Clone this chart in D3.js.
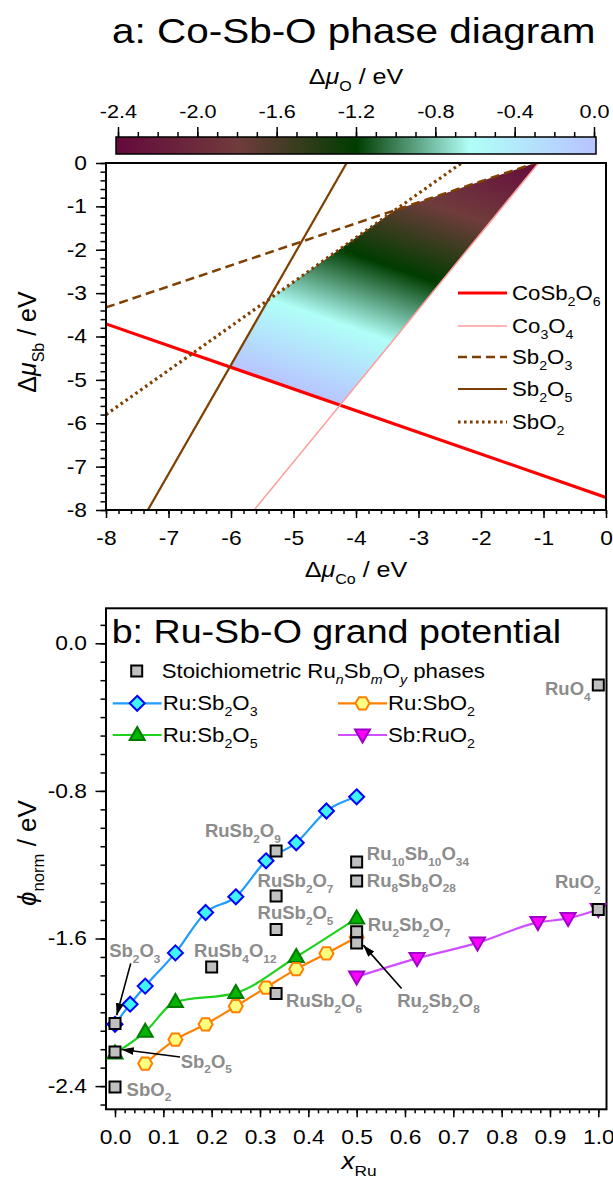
<!DOCTYPE html>
<html><head><meta charset="utf-8">
<script src="https://cdn.jsdelivr.net/npm/d3@7"></script>
<style>
html,body{margin:0;padding:0;background:#fff;}
svg{display:block;}
text{font-family:"Liberation Sans", Arial, sans-serif;}
</style></head><body>
<svg id="c" width="613" height="1179"></svg>
<script>
// ================= DATA: panel a (Co-Sb-O phase diagram) =================
const muCoTicks = [-8,-7,-6,-5,-4,-3,-2,-1,0];
const muSbTicks = [-8,-7,-6,-5,-4,-3,-2,-1,0];
const muOTicks  = [-2.4,-2.0,-1.6,-1.2,-0.8,-0.4,0.0];
const phaseNames = ["CoSb_{2}O_{6}","Co_{3}O_{4}","Sb_{2}O_{3}","Sb_{2}O_{5}","SbO_{2}"];
const phaseLineStart = [[-8,-3.71],[-5.63,-8],[-8,-3.33],[-7.33,-8],[-8,-5.80]];
const phaseLineEnd   = [[0,-7.71],[-1.08,0],[-1.13,0],[-4.15,0],[-2.31,0]];
const phaseRegionSide = [1,1,-1,-1,-1];           // stable region lies above (+1) / below (-1) each line
const hostFormula = {Co:1, Sb:2, O:6};             // CoSb2O6
const hostFormation = -15.42;                      // eV
const cmapValues = [-2.4,-1.79,-1.2,-0.625,0.0];
const cmapColors = ["#650a3c","#703c3c","#003c00","#b0fff8","#b8c4ff"];

// ================= DATA: panel b (Ru-Sb-O grand potential) =================
const xRuTicks = [0,0.1,0.2,0.3,0.4,0.5,0.6,0.7,0.8,0.9,1.0];
const phiTicks = [0.0,-0.8,-1.6,-2.4];
const ruSb2O3X = [0,0.03125,0.0625,0.125,0.1875,0.25,0.3125,0.375,0.4375,0.5];
const ruSb2O3Y = [-2.065,-1.956,-1.858,-1.678,-1.459,-1.374,-1.179,-1.081,-0.909,-0.832];
const ruSb2O5X = [0,0.0625,0.125,0.25,0.375,0.5];
const ruSb2O5Y = [-2.223,-2.106,-1.944,-1.895,-1.700,-1.491];
const ruSbO2X  = [0.0625,0.125,0.1875,0.25,0.3125,0.375,0.4375,0.5];
const ruSbO2Y  = [-2.278,-2.148,-2.065,-1.967,-1.866,-1.766,-1.681,-1.593];
const sbRuO2X  = [0.5,0.625,0.75,0.875,0.9375,1.0];
const sbRuO2Y  = [-1.808,-1.708,-1.624,-1.513,-1.491,-1.443];
const seriesNames = ["Ru:Sb_{2}O_{3}","Ru:Sb_{2}O_{5}","Ru:SbO_{2}","Sb:RuO_{2}"];
const stoichNames = ["SbO_{2}","Sb_{2}O_{5}","Sb_{2}O_{3}","RuSb_{4}O_{12}","RuSb_{2}O_{6}","RuSb_{2}O_{5}",
  "RuSb_{2}O_{7}","RuSb_{2}O_{9}","Ru_{10}Sb_{10}O_{34}","Ru_{8}Sb_{8}O_{28}","Ru_{2}Sb_{2}O_{7}",
  "Ru_{2}Sb_{2}O_{8}","RuO_{2}","RuO_{4}"];
const stoichX = [0,0,0,0.2,1/3,1/3,1/3,1/3,0.5,0.5,0.5,0.5,1,1];
const stoichY = [-2.405,-2.215,-2.061,-1.754,-1.898,-1.551,-1.369,-1.126,-1.186,-1.289,-1.564,-1.624,-1.443,-0.226];
// label anchor (data units, text baseline start)
const stoichLabelX = [0.024,0.136,-0.012,0.1635,0.354,0.295,0.295,0.186,0.521,0.521,0.523,0.584,0.9104,0.8897];
const stoichLabelY = [-2.453,-2.301,-1.701,-1.701,-1.972,-1.495,-1.321,-1.050,-1.175,-1.320,-1.560,-1.972,-1.327,-0.280];
// arrows: [fromX, fromY, toX, toY]
const arrowSpecs = [[0.0325,-1.735,0.0035,-2.016],[0.1345,-2.242,0.0139,-2.202],[0.593,-1.871,0.5138,-1.636]];

// ================= helpers =================
const SX = 1.14;
const svg = d3.select("#c");
function rich(parent, x, y, str, o) {
  o = Object.assign({size:20, anchor:"start", weight:"normal", fill:"#000", rot:0, sx:SX, sy:1, subScale:0.64, subShift:0.3}, o||{});
  const t = parent.append("text")
    .attr("transform", `translate(${x},${y}) rotate(${o.rot}) scale(${o.sx},${o.sy})`)
    .attr("text-anchor", o.anchor).attr("font-size", o.size).attr("font-weight", o.weight).attr("fill", o.fill);
  const parts = str.split(/(_i?\{[^}]*\}|\*\{[^}]*\})/).filter(s => s !== "");
  let low = false; const shift = o.size*o.subShift;
  parts.forEach(p => {
    let ts;
    if (p[0] === "_") {
      const ital = p[1] === "i";
      ts = t.append("tspan").attr("font-size", o.size*o.subScale).text(p.slice(ital?3:2, -1));
      if (ital) ts.attr("font-style","italic");
      if (!low) { ts.attr("dy", shift); low = true; }
    } else {
      const ital = p.startsWith("*{");
      ts = t.append("tspan").text(ital ? p.slice(2,-1) : p);
      if (ital) ts.attr("font-style","italic");
      if (low) { ts.attr("dy", -shift); low = false; }
    }
  });
  return t;
}
function styleAxis(g, fs, lw) {
  g.select(".domain").remove();
  g.selectAll("line").attr("stroke","#000").attr("stroke-width", lw||1.5);
  g.selectAll("text").attr("font-size", fs).attr("fill","#000").attr("font-family",'"Liberation Sans", Arial, sans-serif')
    .each(function(){ const s=d3.select(this); s.attr("x", (+s.attr("x")||0)/SX); })
    .attr("transform", `scale(${SX},1)`);
}
const defs = svg.append("defs");

// ================= titles =================
rich(svg, 112, 43, "a: Co-Sb-O phase diagram", {size:35.5});

// ================= colorbar =================
const cb = d3.scaleLinear().domain([-2.4, 0]).range([118, 594]);
const cbGrad = defs.append("linearGradient").attr("id","cbg").attr("gradientUnits","userSpaceOnUse")
  .attr("x1", cb(-2.4)).attr("x2", cb(0)).attr("y1",0).attr("y2",0);
cmapValues.forEach((v,i)=> cbGrad.append("stop").attr("offset", (v+2.4)/2.4).attr("stop-color", cmapColors[i]));
svg.append("rect").attr("x",116).attr("y",137).attr("width",480).attr("height",17)
  .attr("fill","url(#cbg)").attr("stroke","#000").attr("stroke-width",1.5);
const cbMinor = d3.range(-24, 1).map(i => i/10);
svg.append("g").attr("transform","translate(0,137)")
  .call(d3.axisTop(cb).tickValues(cbMinor).tickSize(5).tickFormat(""))
  .call(g => styleAxis(g, 19));
svg.append("g").attr("transform","translate(0,137)")
  .call(d3.axisTop(cb).tickValues(muOTicks).tickSize(10).tickPadding(9).tickFormat(d => d.toFixed(1)))
  .call(g => styleAxis(g, 19));
rich(svg, 356, 84, "Δ*{μ}_{O} / eV", {size:22, anchor:"middle"});

// ================= panel a =================
const xa = d3.scaleLinear().domain([-8,0]).range([106,606]);
const ya = d3.scaleLinear().domain([-8,0]).range([510,163]);
defs.append("clipPath").attr("id","clipA").append("rect")
  .attr("x",xa(-8)).attr("y",ya(0)).attr("width",xa(0)-xa(-8)).attr("height",ya(-8)-ya(0));

// stable region (half-plane clipping of the plot rectangle)
let poly = [[-8,-8],[0,-8],[0,0],[-8,0]];
phaseLineStart.forEach((p1, i) => {
  const p2 = phaseLineEnd[i], s = phaseRegionSide[i];
  const f = P => s*(P[1] - (p1[1] + (P[0]-p1[0])*(p2[1]-p1[1])/(p2[0]-p1[0])));
  const out = [];
  poly.forEach((A, k) => {
    const B = poly[(k+1) % poly.length], fa = f(A), fb = f(B);
    const cross = () => { const t = fa/(fa-fb); return [A[0]+t*(B[0]-A[0]), A[1]+t*(B[1]-A[1])]; };
    if (fa >= 0 && fb >= 0) out.push(B);
    else if (fa >= 0 && fb < 0) out.push(cross());
    else if (fa < 0 && fb >= 0) { out.push(cross()); out.push(B); }
  });
  poly = out;
});
// oxygen chemical potential (linear in the plane) -> gradient in pixel space
const muO = (px, py) => (hostFormation - hostFormula.Co*xa.invert(px) - hostFormula.Sb*ya.invert(py))/hostFormula.O;
const c0 = muO(0,0), ga = muO(1,0)-c0, gb = muO(0,1)-c0, n2 = ga*ga+gb*gb;
const s1 = (0-c0)/n2, s2 = (-2.4-c0)/n2;
const regGrad = defs.append("linearGradient").attr("id","regg").attr("gradientUnits","userSpaceOnUse")
  .attr("x1", s1*ga).attr("y1", s1*gb).attr("x2", s2*ga).attr("y2", s2*gb);
cmapValues.slice().reverse().forEach(v => {
  const idx = cmapValues.indexOf(v);
  regGrad.append("stop").attr("offset", v/-2.4).attr("stop-color", cmapColors[idx]);
});
const gA = svg.append("g").attr("clip-path","url(#clipA)");
gA.append("path").attr("d", d3.line().x(d=>xa(d[0])).y(d=>ya(d[1]))(poly) + "Z").attr("fill","url(#regg)");

const lineColors = ["#ff0000","#ff9c9c","#7f3f00","#7f3f00","#7f3f00"];
const lineWidths = [3.2, 1.5, 2.5, 2.2, 3.2];
const lineDash = [null, null, "9,5", null, "2.6,3.4"];
phaseLineStart.forEach((p1, i) => {
  const p2 = phaseLineEnd[i];
  gA.append("line").attr("x1", xa(p1[0])).attr("y1", ya(p1[1])).attr("x2", xa(p2[0])).attr("y2", ya(p2[1]))
    .attr("stroke", lineColors[i]).attr("stroke-width", lineWidths[i]).attr("stroke-dasharray", lineDash[i]);
});
// axes a
svg.append("g").attr("transform",`translate(${xa(-8)},0)`)
  .call(d3.axisLeft(ya).tickValues(d3.range(-40,1).map(i=>i/5)).tickSize(5.5).tickFormat(""))
  .call(g => styleAxis(g, 20));
svg.append("g").attr("transform",`translate(${xa(-8)},0)`)
  .call(d3.axisLeft(ya).tickValues(muSbTicks).tickSize(10).tickPadding(9).tickFormat(d => String(d)))
  .call(g => styleAxis(g, 20));
svg.append("g").attr("transform",`translate(0,${ya(-8)})`)
  .call(d3.axisBottom(xa).tickValues(d3.range(-40,1).map(i=>i/5)).tickSize(4).tickFormat(""))
  .call(g => styleAxis(g, 20));
svg.append("g").attr("transform",`translate(0,${ya(-8)})`)
  .call(d3.axisBottom(xa).tickValues(muCoTicks).tickSize(8).tickPadding(12.5).tickFormat(d => String(d)))
  .call(g => styleAxis(g, 20));
svg.append("rect").attr("x",xa(-8)).attr("y",ya(0)).attr("width",xa(0)-xa(-8)).attr("height",ya(-8)-ya(0))
  .attr("fill","none").attr("stroke","#000").attr("stroke-width",2);
rich(svg, 356, 577, "Δ*{μ}_{Co} / eV", {size:22, anchor:"middle"});
rich(svg, 36, 342, "Δ*{μ}_{Sb} / eV", {size:25, anchor:"middle", rot:-90, sx:1, sy:1});
// legend a
phaseNames.forEach((nm, i) => {
  const yy = [293,326,357,389,422][i];
  svg.append("line").attr("x1",458).attr("x2",507).attr("y1",yy).attr("y2",yy)
    .attr("stroke", lineColors[i]).attr("stroke-width", lineWidths[i]).attr("stroke-dasharray", lineDash[i]);
  rich(svg, 512, yy+7, nm, {size:19.5});
});

// ================= panel b =================
const xb = d3.scaleLinear().domain([0,1]).range([115,598.3]);
const yb = d3.scaleLinear().domain([-2.4,0]).range([1086.1,643.3]);
const boxB = {x0:106, x1:606.5, y0:608.3, y1:1109.3};
svg.append("g").attr("transform",`translate(${boxB.x0},0)`)
  .call(d3.axisLeft(yb).tickValues(d3.range(-25,2).map(i=>i/10)).tickSize(5.5).tickFormat(""))
  .call(g => styleAxis(g, 20));
svg.append("g").attr("transform",`translate(${boxB.x0},0)`)
  .call(d3.axisLeft(yb).tickValues(phiTicks).tickSize(10.5).tickPadding(8.5).tickFormat(d => d.toFixed(1)))
  .call(g => styleAxis(g, 20));
svg.append("g").attr("transform",`translate(0,${boxB.y1})`)
  .call(d3.axisBottom(xb).tickValues(d3.range(0,51).map(i=>i/50)).tickSize(4).tickFormat(""))
  .call(g => styleAxis(g, 20));
svg.append("g").attr("transform",`translate(0,${boxB.y1})`)
  .call(d3.axisBottom(xb).tickValues(xRuTicks).tickSize(8).tickPadding(12.5).tickFormat(d => d.toFixed(1)))
  .call(g => styleAxis(g, 20));
svg.append("rect").attr("x",boxB.x0).attr("y",boxB.y0).attr("width",boxB.x1-boxB.x0).attr("height",boxB.y1-boxB.y0)
  .attr("fill","none").attr("stroke","#000").attr("stroke-width",2);
rich(svg, 111.7, 642.7, "b: Ru-Sb-O grand potential", {size:33});
rich(svg, 359, 1169, "*{x}_{Ru}", {size:23, anchor:"middle", subScale:0.66});
rich(svg, 36, 853, "*{ϕ}_{norm} / eV", {size:26, anchor:"middle", rot:-90, sx:1, sy:1});

// marker shapes
const shapes = {
  diamond: "M0,-7.5L7.5,0L0,7.5L-7.5,0Z",
  triUp: "M0,-8L7.5,5L-7.5,5Z",
  hex: "M-7,0L-3.5,-6.1L3.5,-6.1L7,0L3.5,6.1L-3.5,6.1Z",
  triDown: "M-7.5,-5.5L7.5,-5.5L0,7.5Z",
  square: "M-5.5,-5.5H5.5V5.5H-5.5Z"
};
const seriesX = [ruSb2O3X, ruSb2O5X, ruSbO2X, sbRuO2X];
const seriesY = [ruSb2O3Y, ruSb2O5Y, ruSbO2Y, sbRuO2Y];
const sLine = ["#1e9cff","#1ed21e","#ff8000","#d050ff"];
const sFill = ["#40f4f4","#00b400","#ffff80","#ff00ff"];
const sStroke = ["#0000ff","#007a00","#ff8000","#a000c8"];
const sShape = ["diamond","triUp","hex","triDown"];
const gB = svg.append("g");
seriesX.forEach((xs, k) => {
  const pts = xs.map((x,i) => [xb(x), yb(seriesY[k][i])]);
  gB.append("path").attr("d", d3.line().curve(d3.curveMonotoneX)(pts))
    .attr("fill","none").attr("stroke", sLine[k]).attr("stroke-width", 2.2);
});
seriesX.forEach((xs, k) => {
  xs.forEach((x,i) => {
    gB.append("path").attr("d", shapes[sShape[k]]).attr("transform",`translate(${xb(x)},${yb(seriesY[k][i])})`)
      .attr("fill", sFill[k]).attr("stroke", sStroke[k]).attr("stroke-width", 2);
  });
});
// arrows
defs.append("marker").attr("id","ah").attr("viewBox","0 0 12 10").attr("refX",12).attr("refY",5)
  .attr("markerWidth",12).attr("markerHeight",10).attr("markerUnits","userSpaceOnUse").attr("orient","auto")
  .append("path").attr("d","M0,1L12,5L0,9Z").attr("fill","#000");
arrowSpecs.forEach(a => {
  gB.append("line").attr("x1", xb(a[0])).attr("y1", yb(a[1])).attr("x2", xb(a[2])).attr("y2", yb(a[3]))
    .attr("stroke","#000").attr("stroke-width",1.6).attr("marker-end","url(#ah)");
});
// stoichiometric squares + labels
stoichX.forEach((x,i) => {
  gB.append("path").attr("d", shapes.square).attr("transform",`translate(${xb(x)},${yb(stoichY[i])})`)
    .attr("fill","#c0c0c0").attr("stroke","#000").attr("stroke-width",2);
  rich(gB, xb(stoichLabelX[i]), yb(stoichLabelY[i]), stoichNames[i], {size:18.5, weight:"bold", fill:"#8c8c8c", sx:1.0});
});
// legend b
svg.append("path").attr("d", shapes.square).attr("transform","translate(136.7,671)")
  .attr("fill","#c0c0c0").attr("stroke","#000").attr("stroke-width",2);
rich(svg, 161.7, 678, "Stoichiometric Ru_i{n}Sb_i{m}O_i{y} phases", {size:19.5});
const legPos = [[112.7,703.3],[112.7,735],[338,703.3],[338,735]];
seriesNames.forEach((nm, k) => {
  const [lx, ly] = legPos[k];
  svg.append("line").attr("x1",lx).attr("x2",lx+49).attr("y1",ly).attr("y2",ly).attr("stroke",sLine[k]).attr("stroke-width",2.2);
  svg.append("path").attr("d", shapes[sShape[k]]).attr("transform",`translate(${lx+24.5},${ly})`)
    .attr("fill", sFill[k]).attr("stroke", sStroke[k]).attr("stroke-width", 2);
  rich(svg, lx+50, ly+7, nm, {size:19.5});
});
</script>
</body></html>
